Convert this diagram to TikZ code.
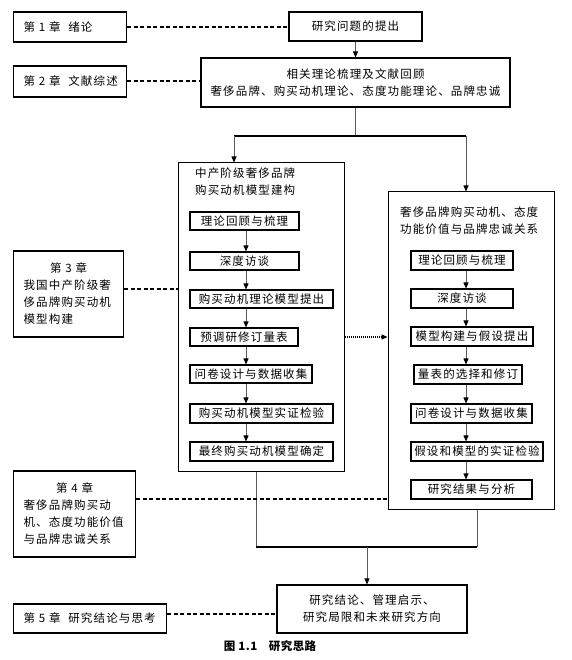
\documentclass[tikz,border=0pt]{standalone}
\usepackage{fontspec}
\newfontfamily\cjk[LetterSpace=10]{Noto Sans CJK SC}
\newfontfamily\cjkcap[LetterSpace=4]{Noto Sans CJK SC}
\usetikzlibrary{arrows.meta}
\begin{document}
\begin{tikzpicture}[x=1pt,y=-1pt,
  every node/.style={font=\cjk\fontsize{11.5}{17}\selectfont},
  bx/.style={draw, line width=1.1pt, inner sep=0pt, align=center},
  grp/.style={draw, line width=1pt, inner sep=0pt},
  chap/.style={draw, line width=1.2pt, inner xsep=10pt, inner ysep=0pt, align=left, anchor=west},
  dsh/.style={line width=2pt, dash pattern=on 4pt off 2.5pt},
  thinln/.style={draw=black!65, line width=0.8pt},
  arr/.style={thinln, -{Triangle[length=6pt,width=5pt,color=black]}},
  dotarr/.style={line width=1.1pt, dash pattern=on 1pt off 1pt, -{Triangle[length=6pt,width=5pt]}},
  bar/.style={line width=1.6pt},
]
\useasboundingbox (0,0) rectangle (571,660);

% chapter boxes
\node[chap, text width=93pt, minimum height=30pt] (ch1) at (13,27) {\mbox{第 1 章\ \ 绪论}};
\node[chap, text width=93pt, minimum height=31pt] (ch2) at (13,81.5) {\mbox{第 2 章\ \ 文献综述}};
\node[chap, text width=90pt, minimum height=86pt] (ch3) at (13,294) {\makebox[90pt]{第 3 章}\\我国中产阶级奢\\侈品牌购买动机\\模型构建};
\node[chap, text width=102pt, minimum height=86pt] (ch4) at (13,514) {\makebox[102pt]{第 4 章}\\奢侈品牌购买动\\机、态度功能价值\\与品牌忠诚关系};
\node[chap, text width=133pt, minimum height=29pt] (ch5) at (13,618.5) {\mbox{第 5 章\ \ 研究结论与思考}};

% main flow
\node[bx, minimum width=133pt, minimum height=29pt] (q) at (355.5,26.5) {研究问题的提出};
\node[bx, minimum width=309pt, minimum height=49pt] (lit) at (355.5,82.5) {相关理论梳理及文献回顾\\奢侈品牌、购买动机理论、态度功能理论、品牌忠诚};

% group boxes
\node[grp, minimum width=166pt, minimum height=308pt] (lgrp) at (261,317) {};
\node[grp, minimum width=166pt, minimum height=317pt] (rgrp) at (471,350.5) {};
\node[anchor=west, align=left, inner sep=0pt] (lt) at (195,182) {中产阶级奢侈品牌\\购买动机模型建构};
\node[anchor=west, align=left, inner sep=0pt] (rt) at (400,221) {奢侈品牌购买动机、态度\\功能价值与品牌忠诚关系};

% left inner boxes
\node[bx, minimum width=109pt, minimum height=18pt] (l1) at (244.5,221) {理论回顾与梳理};
\node[bx, minimum width=109pt, minimum height=18pt] (l2) at (244.5,261) {深度访谈};
\node[bx, minimum width=143pt, minimum height=18pt] (l3) at (261.5,299) {购买动机理论模型提出};
\node[bx, minimum width=108pt, minimum height=18pt] (l4) at (244,337) {预调研修订量表};
\node[bx, minimum width=122pt, minimum height=18pt] (l5) at (251,374) {问卷设计与数据收集};
\node[bx, minimum width=143pt, minimum height=19pt] (l6) at (261.5,413.5) {购买动机模型实证检验};
\node[bx, minimum width=143pt, minimum height=19pt] (l7) at (261.5,451.5) {最终购买动机模型确定};

% right inner boxes
\node[bx, minimum width=102pt, minimum height=19pt] (r1) at (462,260.5) {理论回顾与梳理};
\node[bx, minimum width=102pt, minimum height=19pt] (r2) at (462,298.5) {深度访谈};
\node[bx, minimum width=122pt, minimum height=19pt] (r3) at (472,336.5) {模型构建与假设提出};
\node[bx, minimum width=108pt, minimum height=19pt] (r4) at (468,374.5) {量表的选择和修订};
\node[bx, minimum width=121pt, minimum height=19pt] (r5) at (471.5,413.5) {问卷设计与数据收集};
\node[bx, minimum width=132pt, minimum height=19pt] (r6) at (477,451.5) {假设和模型的实证检验};
\node[bx, minimum width=121pt, minimum height=19pt] (r7) at (471.5,489.5) {研究结果与分析};

% final box
\node[bx, minimum width=190pt, minimum height=48pt] (fin) at (372,609) {研究结论、管理启示、\\研究局限和未来研究方向};

% caption
\node[font=\cjkcap\bfseries\fontsize{11.5}{13}\selectfont, inner sep=0pt] (cap) at (270,646) {图 1.1\quad 研究思路};

% connectors
\draw[dsh] (ch1.east) -- (ch1.east -| q.west);
\draw[dsh] (ch2.east) -- (ch2.east -| lit.west);
\draw[arr] (q.south) -- (lit.north);
\coordinate (j) at (355.5,136);
\coordinate (jl) at (234,136);
\coordinate (jr) at (466,136);
\draw[thinln] (lit.south) -- (j);
\draw[bar] (jl) -- (jr);
\draw[arr] (jl) -- (jl |- lgrp.north);
\draw[arr] (jr) -- (jr |- rgrp.north);

\coordinate (lx) at (246,0);
\foreach \a/\b in {l1/l2,l2/l3,l3/l4,l4/l5,l5/l6,l6/l7}
  \draw[arr] (\a.south -| lx) -- (\b.north -| lx);
\coordinate (rx) at (466,0);
\foreach \a/\b in {r1/r2,r2/r3,r3/r4,r4/r5,r5/r6,r6/r7}
  \draw[arr] (\a.south -| rx) -- (\b.north -| rx);

\coordinate (c3) at (178,289);
\draw[line width=1.3pt, dash pattern=on 4pt off 2.5pt] (ch3.east |- c3) -- (lgrp.west |- c3);
\draw[dotarr] (lgrp.east |- l4) -- (rgrp.west |- l4);

\coordinate (b1) at (256,547);
\coordinate (b2) at (477,547);
\coordinate (bm) at (367,547);
\draw[thinln] (lgrp.south -| b1) -- (b1);
\draw[thinln] (rgrp.south -| b2) -- (b2);
\draw[bar] (b1) -- (b2);
\draw[arr] (bm) -- (bm |- fin.north);

\coordinate (c4) at (388,499);
\draw[dsh] (ch4.east |- c4) -- (rgrp.west |- c4);
\coordinate (c5) at (0,614);
\draw[dsh] (ch5.east |- c5) -- (fin.west |- c5);
\end{tikzpicture}
\end{document}
